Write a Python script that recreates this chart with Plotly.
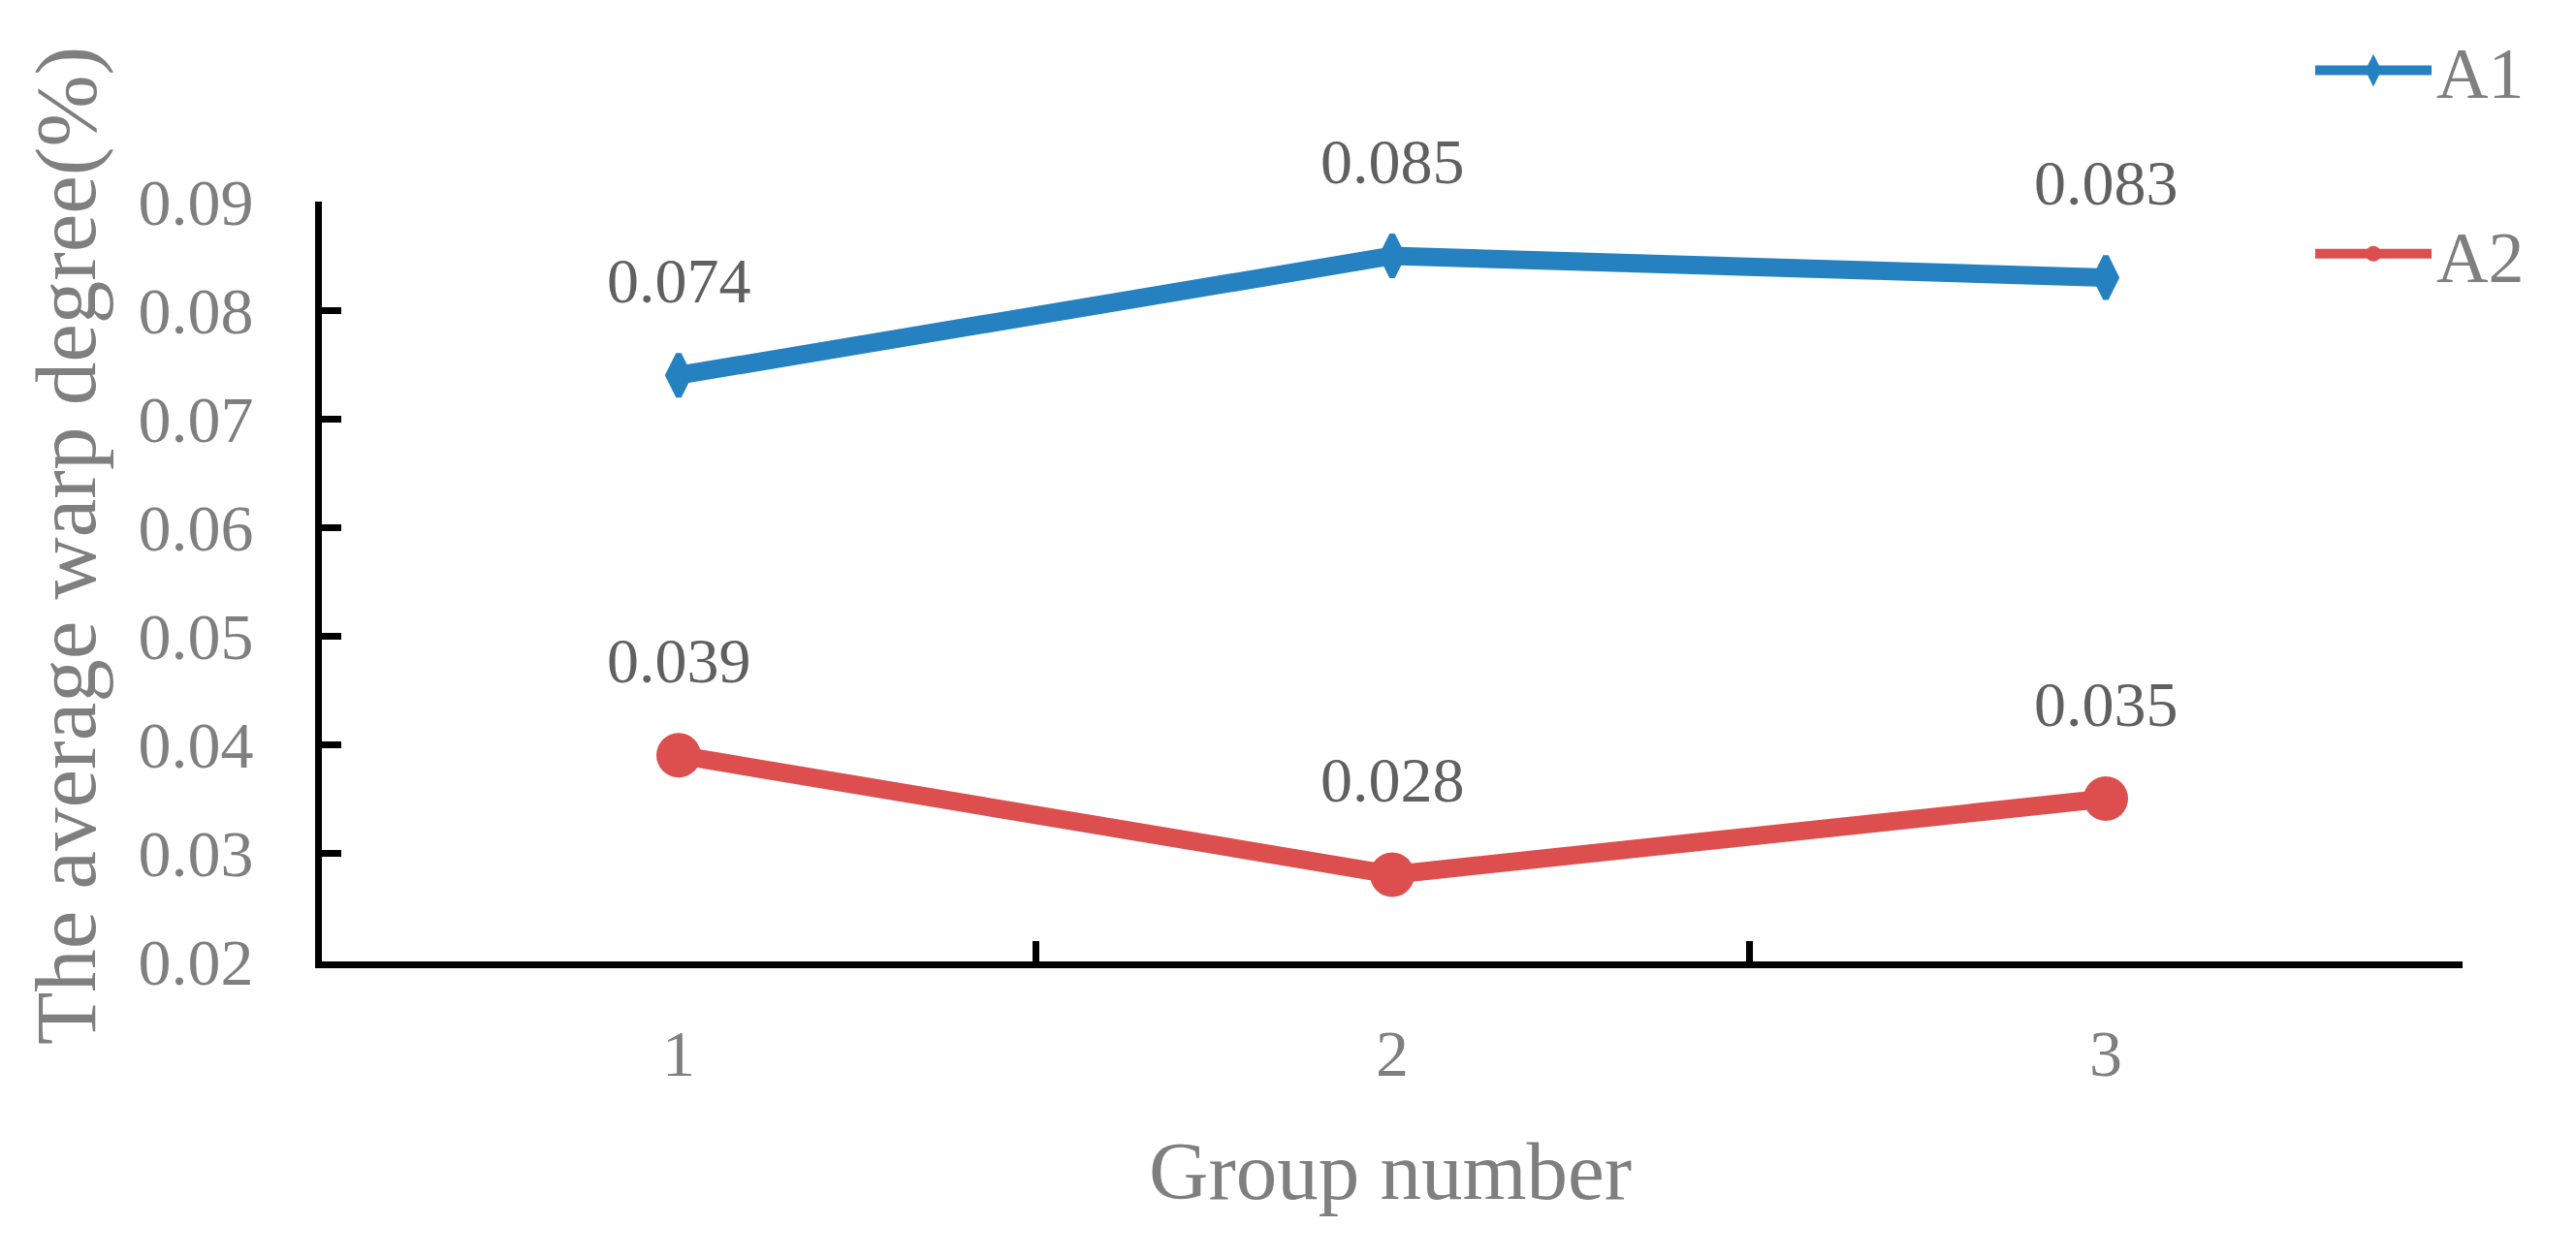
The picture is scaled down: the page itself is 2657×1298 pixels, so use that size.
import plotly.graph_objects as go

groups = ["1", "2", "3"]
a1 = [0.074, 0.085, 0.083]
a2 = [0.039, 0.028, 0.035]
y_ticks = [0.02, 0.03, 0.04, 0.05, 0.06, 0.07, 0.08, 0.09]
y_tick_text = ["0.02", "0.03", "0.04", "0.05", "0.06", "0.07", "0.08", "0.09"]

BLUE = "#2581C0"
RED = "#DD4F4F"
GRAY = "#7F7F7F"
LABEL = "#606060"
FONT = "Liberation Serif"

L, R, T, B = 324, 125, 200, 314

fig = go.Figure()
fig.add_trace(go.Scatter(
    x=groups, y=a1, name="A1", mode="lines+markers", legendgroup="a1",
    line=dict(color=BLUE, width=19),
    marker=dict(symbol="diamond-tall", size=31, color=BLUE, line=dict(color=BLUE, width=6)),
))
fig.add_trace(go.Scatter(
    x=groups, y=a2, name="A2", mode="lines+markers", legendgroup="a2",
    line=dict(color=RED, width=19),
    marker=dict(symbol="circle", size=46, color=RED),
))

for series in (a1, a2):
    for i, v in enumerate(series):
        fig.add_annotation(x=i, y=v, text=f"{v:.3f}", showarrow=False,
                           xanchor="center", yanchor="middle", yshift=98,
                           font=dict(family=FONT, size=66, color=LABEL))

pw = 2657 - L - R
ph = 1298 - T - B
fig.add_annotation(text="The average warp degree(%)", xref="paper", yref="paper",
                   x=(60 - L) / pw, y=(1298 - B - 555) / ph, textangle=-90,
                   showarrow=False, xanchor="center", yanchor="middle",
                   font=dict(family=FONT, size=89, color=GRAY))
fig.add_annotation(text="Group number", xref="paper", yref="paper",
                   x=(1426 - L) / pw, y=-(1200 - (1298 - B)) / ph, showarrow=False,
                   xanchor="center", yanchor="middle",
                   font=dict(family=FONT, size=85, color=GRAY))

fig.update_layout(
    width=2657, height=1298,
    margin=dict(l=L, r=R, t=T, b=B, autoexpand=False),
    paper_bgcolor="white", plot_bgcolor="white",
    showlegend=True,
    legend=dict(x=(2375 - L) / pw, y=1 + (T - 10) / ph, xanchor="left", yanchor="top",
                font=dict(family=FONT, size=74, color=GRAY),
                tracegroupgap=90, itemwidth=120, bgcolor="rgba(0,0,0,0)"),
    xaxis=dict(type="category", range=[-0.5, 2.5], tickson="boundaries",
               ticks="inside", ticklen=21, tickwidth=7, tickcolor="black",
               showline=True, linecolor="black", linewidth=7, showgrid=False,
               zeroline=False, tickfont=dict(family=FONT, size=68, color=GRAY),
               ticklabelstandoff=29),
    yaxis=dict(range=[0.02, 0.09], tickvals=y_ticks, ticktext=y_tick_text,
               ticks="inside", ticklen=20, tickwidth=7, tickcolor="black",
               showline=True, linecolor="black", linewidth=7, showgrid=False,
               zeroline=False, tickfont=dict(family=FONT, size=68, color=GRAY),
               ticklabelstandoff=50),
)

fig.write_html("out.html")
